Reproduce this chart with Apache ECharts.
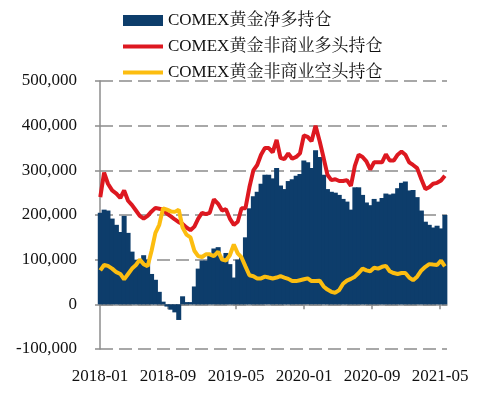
<!DOCTYPE html>
<html>
<head>
<meta charset="utf-8">
<script src="https://cdn.jsdelivr.net/npm/echarts@6/dist/echarts.min.js"></script>
<style>
  html, body { margin: 0; padding: 0; background: #fff; }
  #main { width: 495px; height: 397px; }
</style>
</head>
<body>
<div id="main"></div>
<script>
// 两周一个点, 从 2018-01-02 开始
const startDate = '2018-01-02';
const stepDays = 14;

// 单位: 千手
const netLong = [
  205, 212, 210, 192, 178, 162, 198, 160, 118, 100,
  100, 110, 100, 68, 55, 28, 6, -5, -12, -18,
  -35, 18, 5, 5, 40, 80, 98, 98, 110, 125,
  128, 100, 115, 90, 60, 100, 106, 150, 215, 242,
  252, 270, 290, 290, 282, 305, 266, 258, 276, 280,
  288, 292, 322, 318, 305, 345, 330, 290, 258, 252,
  250, 245, 236, 230, 212, 262, 262, 245, 228, 222,
  236, 230, 238, 248, 246, 248, 260, 272, 275, 255,
  256, 240, 210, 185, 178, 172, 176, 170, 200
];
const nonCommLong = [
  240, 295, 270, 255, 248, 238, 255, 232, 222, 210,
  198, 192, 198, 208, 216, 214, 212, 203, 197, 190,
  184, 180, 172, 166, 174, 192, 205, 202, 205, 235,
  225, 210, 213, 192, 178, 185, 215, 215, 262, 300,
  312, 335, 350, 350, 340, 368, 328, 325, 338, 326,
  330, 338, 378, 375, 365, 400, 365, 328, 290, 278,
  280, 276, 276, 278, 265, 310, 335, 330, 320, 302,
  318, 318, 318, 336, 322, 322, 335, 342, 335, 318,
  312, 305, 280, 258, 262, 270, 272, 277, 288
];
const nonCommShort = [
  76, 88, 86, 80, 72, 68, 56, 68, 80, 88,
  100, 90, 85, 120, 160, 178, 215, 212, 208, 207,
  212, 172, 156, 150, 120, 108, 106, 112, 112, 108,
  118, 100, 98, 110, 134, 114, 105, 85, 65, 63,
  58, 58, 62, 60, 58, 60, 63, 60, 57, 52,
  52, 54, 56, 58, 52, 52, 53, 40, 33, 28,
  26, 32, 46, 53, 57, 62, 70, 80, 76, 74,
  82, 80, 84, 86, 74, 70, 68, 70, 70, 60,
  54, 62, 76, 84, 90, 89, 88, 98, 85
];

const yTicks = [-100000, 0, 100000, 200000, 300000, 400000, 500000];
const xLabelMonths = ['2018-01', '2018-09', '2019-05', '2020-01', '2020-09', '2021-05'];

const names = ['COMEX黄金净多持仓', 'COMEX黄金非商业多头持仓', 'COMEX黄金非商业空头持仓'];
const serif = "'Liberation Serif', 'Noto Serif CJK SC', 'Noto Sans CJK SC', serif";

// 日期 -> 距 2018-01 的月数
function monthPos(d) {
  const dim = new Date(d.getFullYear(), d.getMonth() + 1, 0).getDate();
  return (d.getFullYear() - 2018) * 12 + d.getMonth() + (d.getDate() - 1) / dim;
}
function labelPos(s) {
  const p = s.split('-');
  return (+p[0] - 2018) * 12 + (+p[1] - 1);
}

const dates = [];
const s0 = new Date(startDate + 'T00:00:00');
for (let i = 0; i < netLong.length; i++) {
  dates.push(new Date(s0.getFullYear(), s0.getMonth(), s0.getDate() + i * stepDays));
}
const xs = dates.map(monthPos);
const pair = arr => arr.map((v, i) => [xs[i], v * 1000]);

const xLabelVals = xLabelMonths.map(labelPos);
const labelText = {};
xLabelMonths.forEach((m, i) => { labelText[xLabelVals[i]] = m; });

const chart = echarts.init(document.getElementById('main'), null, { renderer: 'canvas' });

const noDot = { color: 'rgba(0,0,0,0)', borderWidth: 0, opacity: 0 };

var option = {
  animation: false,
  textStyle: { fontFamily: serif },
  legend: {
    orient: 'vertical',
    left: 116,
    top: 7,
    itemWidth: 40,
    itemHeight: 11,
    itemGap: 9,
    textStyle: { fontFamily: serif, fontSize: 17, color: '#111' },
    data: [
      { name: names[0], icon: 'rect' },
      { name: names[1], itemStyle: noDot, lineStyle: { width: 4 } },
      { name: names[2], itemStyle: noDot, lineStyle: { width: 4 } }
    ]
  },
  grid: { left: 100, right: 48, top: 81, bottom: 48 },
  xAxis: [{
    type: 'value',
    min: 0,
    max: 40.8,
    axisLine: { onZero: true, lineStyle: { color: '#8c8c8c', width: 1.5 } },
    axisTick: { show: true, length: 5, customValues: xLabelVals.slice(1), lineStyle: { color: '#8c8c8c', width: 1.5 } },
    axisLabel: { show: false },
    splitLine: { show: false }
  }, {
    type: 'value',
    position: 'bottom',
    min: 0,
    max: 40.8,
    axisLine: { show: false, onZero: false },
    axisTick: { show: false },
    splitLine: { show: false },
    axisLabel: {
      margin: 19,
      fontSize: 17,
      color: '#111',
      fontFamily: serif,
      customValues: xLabelVals,
      formatter: v => labelText[v] || ''
    }
  }],
  yAxis: {
    type: 'value',
    min: yTicks[0],
    max: yTicks[yTicks.length - 1],
    interval: 100000,
    axisLine: { show: true, lineStyle: { color: '#8c8c8c', width: 1.5 } },
    axisTick: { show: true, length: 5, lineStyle: { color: '#8c8c8c', width: 1.5 } },
    axisLabel: {
      margin: 23,
      fontSize: 17,
      color: '#111',
      fontFamily: serif,
      formatter: v => v.toLocaleString('en-US')
    },
    splitLine: { lineStyle: { color: '#8c8c8c', width: 1.5, type: [13, 6] } }
  },
  series: [{
    name: names[0],
    type: 'bar',
    barWidth: 5,
    itemStyle: { color: '#0d3d6b' },
    data: pair(netLong)
  }, {
    name: names[1],
    type: 'line',
    symbol: 'none',
    lineStyle: { color: '#dd1820', width: 4 },
    itemStyle: { color: '#dd1820' },
    data: pair(nonCommLong)
  }, {
    name: names[2],
    type: 'line',
    symbol: 'none',
    lineStyle: { color: '#fcbd10', width: 4 },
    itemStyle: { color: '#fcbd10' },
    data: pair(nonCommShort)
  }]
};

chart.setOption(option);
</script>
</body>
</html>
